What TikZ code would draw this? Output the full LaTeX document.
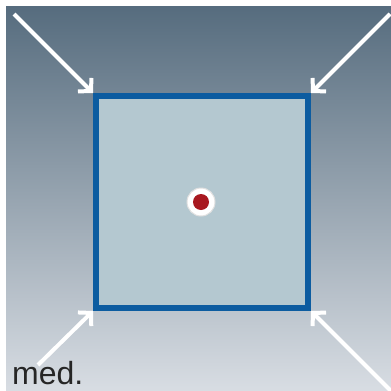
\documentclass[tikz,border=0pt]{standalone}
\usepackage{fontspec}
\setmainfont{Liberation Sans}
\usepackage{xcolor}
\usepackage{tikz}
\usetikzlibrary{arrows.meta,positioning}
\definecolor{bgtop}{RGB}{86,108,126}
\definecolor{bgbot}{RGB}{216,221,227}
\definecolor{sqfill}{RGB}{180,200,208}
\definecolor{sqline}{RGB}{12,92,160}
\definecolor{dotred}{RGB}{168,24,32}

\begin{document}
\begin{tikzpicture}[
    x=1pt, y=-1pt,
    region/.style={draw=sqline, fill=sqfill, line width=6pt, minimum size=212pt,
                   inner sep=0pt},
    ring/.style={circle, fill=white, draw=black!12, line width=1pt, minimum size=28pt, inner sep=0pt},
    core/.style={circle, fill=dotred, minimum size=16pt, inner sep=0pt},
    push/.style={draw=white, line width=4pt, -{Straight Barb[length=9pt, width=19pt, line width=4pt]}}
]
    \useasboundingbox (0,0) rectangle (391,391);
    \clip (0,0) rectangle (391,391);
    \shade[top color=bgtop, bottom color=bgbot] (6,6) rectangle (391,391);

    \node[region] (sq) at (202,202) {};
    \node[ring] (pt) at (201,202) {};
    \node[core] at (pt.center) {};

    \coordinate (tl) at (14,14);
    \coordinate (tr) at (390,14);
    \coordinate (bl) at (38,365);
    \coordinate (br) at (395,395);

    \draw[push] (tl) -- (sq.north west);
    \draw[push] (tr) -- (sq.north east);
    \draw[push] (bl) -- (sq.south west);
    \draw[push] (br) -- (sq.south east);

    \node[anchor=base west, inner sep=0pt, font=\fontsize{32}{36}\selectfont,
          text=black!85] (lbl) at (12,384) {med.};
\end{tikzpicture}
\end{document}
